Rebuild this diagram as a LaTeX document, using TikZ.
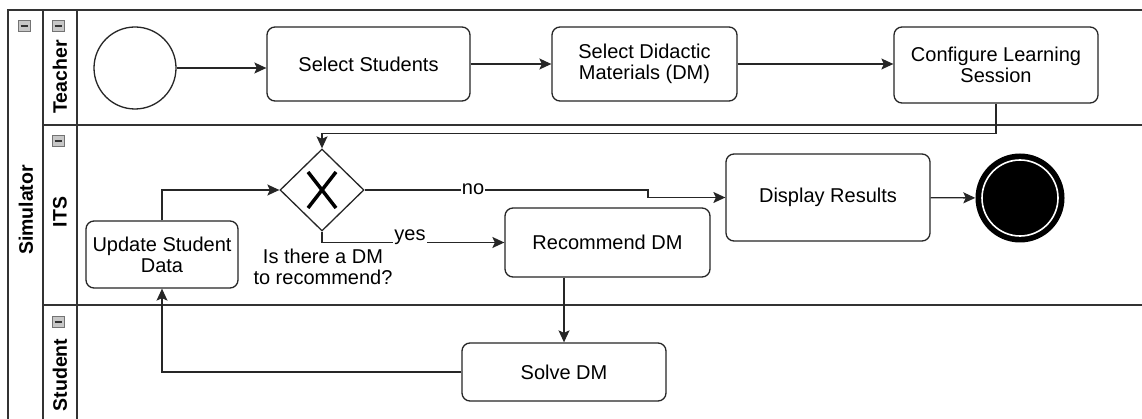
\documentclass[tikz,border=0pt]{standalone}
\usepackage{fontspec}
\setmainfont{Liberation Sans}
\usetikzlibrary{shapes.geometric,arrows.meta}
\definecolor{lanegray}{HTML}{333333}
\tikzset{
  txt/.style={font=\fontsize{20}{22}\selectfont, text=black},
  lanelbl/.style={font=\bfseries\fontsize{19.5}{22}\selectfont, rotate=90, text=black},
  task/.style={txt, draw=black!85, line width=1.3pt, rounded corners=8pt,
    align=center, inner sep=0pt, fill=white},
  flow/.style={draw=black!85, line width=1.3pt, -{Stealth[length=12pt,width=11pt,inset=2.5pt]}},
  edgelbl/.style={txt, fill=white, inner sep=1pt},
  lane/.style={draw=lanegray, line width=1.4pt},
  minusbox/.style={draw=black!55, fill=black!22, line width=0.8pt, minimum width=12pt,
    minimum height=11pt, inner sep=0pt},
}
\begin{document}
\begin{tikzpicture}[x=1pt,y=-1pt]
\useasboundingbox (0,0) rectangle (1142,419);
\fill[white] (0,0) rectangle (1142,419);

% pool and lanes
\draw[lane] (1142,10) -- (8,10) -- (8,419);
\draw[lane] (43,10) -- (43,419);
\draw[lane] (77,10) -- (77,419);
\draw[lane] (43,125) -- (1142,125);
\draw[lane] (43,305) -- (1142,305);

% collapse buttons
\foreach \n/\x/\y in {mpool/24/26, mteach/58/26, mits/58/141, mstud/58/322}{
  \node[minusbox] (\n) at (\x,\y) {};
  \draw[line width=1.6pt, black!80] ([xshift=-3.5pt]\n.center) -- ([xshift=3.5pt]\n.center);
}

% lane titles
\node[lanelbl] (lpool) at (26,210) {Simulator};
\node[lanelbl] (lteach) at (60,77) {Teacher};
\node[lanelbl] (lits) at (60,212) {ITS};
\node[lanelbl] (lstud) at (60,375) {Student};

% events
\node[circle, draw=black!85, line width=1.3pt, minimum size=82pt, inner sep=0pt] (start) at (135,68) {};
\node[circle, fill=black, minimum size=89pt, inner sep=0pt] (stop) at (1020,198) {};
\draw[white, line width=1.6pt] (stop.center) circle (38);

% tasks
\node[task, minimum width=203pt, minimum height=74pt] (selS) at (368.5,64) {Select Students};
\node[task, minimum width=185pt, minimum height=74pt] (selDM) at (644.5,64) {Select Didactic\\[-1pt]Materials (DM)};
\node[task, minimum width=204pt, minimum height=76pt] (conf) at (996,65) {Configure Learning\\[-1pt]Session};
\node[task, minimum width=204pt, minimum height=87pt] (disp) at (828,197.5) {Display Results};
\node[task, minimum width=205pt, minimum height=69pt] (rec) at (607.5,242.5) {Recommend DM};
\node[task, minimum width=204pt, minimum height=58pt] (solve) at (564,372) {Solve DM};
\node[task, minimum width=152pt, minimum height=67pt] (upd) at (162,254.5) {Update Student\\[-1pt]Data};

% exclusive gateway
\node[diamond, draw=black!85, line width=1.3pt, minimum width=84pt, minimum height=82pt,
  inner sep=0pt, fill=white] (gw) at (322,190) {};
\draw[line width=3.5pt, black] ([shift={(-14,-18)}]gw.center) -- ([shift={(14,18)}]gw.center);
\draw[line width=3.5pt, black] ([shift={(14,-18)}]gw.center) -- ([shift={(-14,18)}]gw.center);
\node[txt, align=center] (gwlbl) at (323,267) {Is there a DM\\[-1pt]to recommend?};

% sequence flows
\coordinate (nobend) at (648,190);
\draw[flow] (start.east) -- (start.east -| selS.west);
\draw[flow] (selS) -- (selDM);
\draw[flow] (selDM.east) -- (selDM.east -| conf.west);
\draw[flow] (conf.south) -- ++(0,30) -| (gw.north);
\draw[flow] (gw.east) -- (nobend) |- (disp.west);
\node[edgelbl] (nolbl) at (473,189) {no};
\draw[flow] (gw.south) |- (rec.west);
\node[edgelbl] (yeslbl) at (410,237) {yes};
\draw[flow] (disp) -- (stop);
\draw[flow] (solve.north |- rec.south) -- (solve.north);
\draw[flow] (solve.west) -| (upd.south);
\draw[flow] (upd.north) |- (gw.west);
\end{tikzpicture}
\end{document}
